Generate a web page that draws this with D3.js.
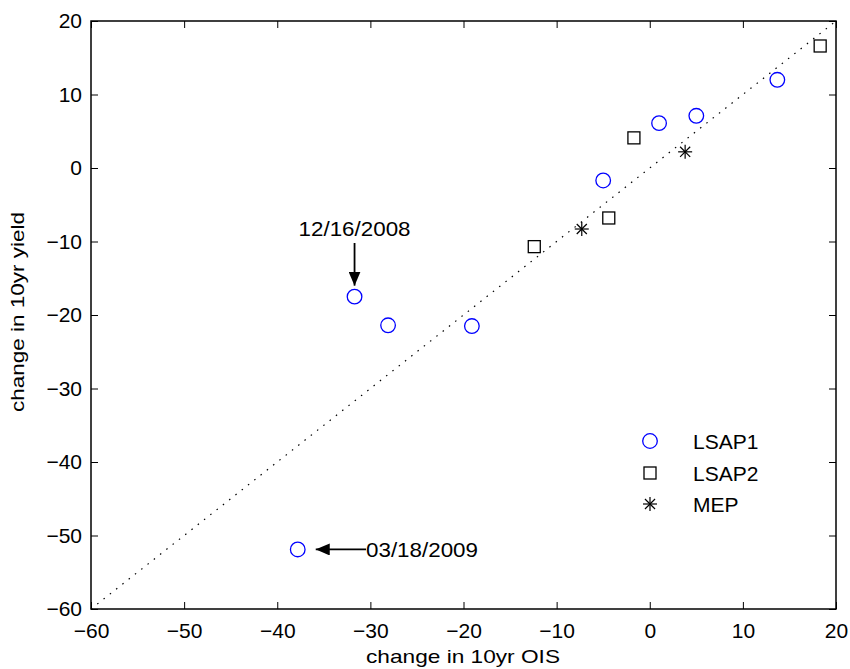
<!DOCTYPE html>
<html><head><meta charset="utf-8">
<script src="https://cdn.jsdelivr.net/npm/d3@7"></script>
<style>body{margin:0;background:#fff}svg{display:block;font-family:"Liberation Sans",Arial,sans-serif}</style>
</head><body><svg id="c" width="850" height="669"></svg>
<script>
const lsap1X = [-31.7, -28.1, -19.1, -5.0, 1.0, 5.0, 13.7, -37.8];
const lsap1Y = [-17.5, -21.4, -21.5, -1.7, 6.1, 7.1, 12.0, -51.9];
const lsap2X = [18.3, -1.7, -4.4, -12.4];
const lsap2Y = [16.6, 4.1, -6.8, -10.7];
const mepX = [-7.3, 3.8];
const mepY = [-8.3, 2.2];
const xTicks = [-60, -50, -40, -30, -20, -10, 0, 10, 20];
const yTicks = [-60, -50, -40, -30, -20, -10, 0, 10, 20];
const seriesNames = ["LSAP1", "LSAP2", "MEP"];

const svg = d3.select("#c");
const L = 91, R = 836, T = 21, B = 609;
const x = d3.scaleLinear().domain([-60, 20]).range([L, R]);
const y = d3.scaleLinear().domain([-60, 20]).range([B, T]);
const FF = "Liberation Sans, Arial, sans-serif";

// diagonal dotted line
svg.append("line").attr("x1", x(-60)).attr("y1", y(-60)).attr("x2", x(20)).attr("y2", y(20))
  .attr("stroke", "#000").attr("stroke-width", 1.2).attr("stroke-dasharray", "1.5,6.5");

// axes
const tickLen = 7;
const fmt = d => d < 0 ? "\u2212" + Math.abs(d) : String(d);
svg.append("g").attr("transform", `translate(0,${B})`)
  .call(d3.axisBottom(x).tickValues(xTicks).tickSizeInner(-tickLen).tickSizeOuter(0).tickPadding(14).tickFormat(fmt))
  .call(g => g.select(".domain").remove())
  .call(g => g.selectAll("text").attr("font-size", 21).attr("fill", "#000").attr("font-family", FF));
svg.append("g").attr("transform", `translate(0,${T})`)
  .call(d3.axisTop(x).tickValues(xTicks).tickSizeInner(-tickLen).tickSizeOuter(0).tickFormat(""))
  .call(g => g.select(".domain").remove());
svg.append("g").attr("transform", `translate(${L},0)`)
  .call(d3.axisLeft(y).tickValues(yTicks).tickSizeInner(-tickLen).tickSizeOuter(0).tickPadding(9).tickFormat(fmt))
  .call(g => g.select(".domain").remove())
  .call(g => g.selectAll("text").attr("font-size", 21).attr("fill", "#000").attr("font-family", FF));
svg.append("g").attr("transform", `translate(${R},0)`)
  .call(d3.axisRight(y).tickValues(yTicks).tickSizeInner(-tickLen).tickSizeOuter(0).tickFormat(""))
  .call(g => g.select(".domain").remove());
svg.selectAll(".tick line").attr("stroke", "#000").attr("stroke-width", 1);
svg.append("rect").attr("x", L).attr("y", T).attr("width", R - L).attr("height", B - T)
  .attr("fill", "none").attr("stroke", "#000").attr("stroke-width", 1.5);

// markers
const l1 = lsap1X.map((v, i) => [v, lsap1Y[i]]);
const l2 = lsap2X.map((v, i) => [v, lsap2Y[i]]);
const me = mepX.map((v, i) => [v, mepY[i]]);
svg.append("g").selectAll("circle").data(l1).join("circle")
  .attr("cx", d => x(d[0])).attr("cy", d => y(d[1])).attr("r", 7.3)
  .attr("fill", "none").attr("stroke", "#0000ff").attr("stroke-width", 1.3);
svg.append("g").selectAll("rect").data(l2).join("rect")
  .attr("x", d => x(d[0]) - 6).attr("y", d => y(d[1]) - 6).attr("width", 12).attr("height", 12)
  .attr("fill", "none").attr("stroke", "#000").attr("stroke-width", 1.3);
function star(g, cx, cy, r) {
  const p = [[0, -r, 0, r], [-r, 0, r, 0], [-r*0.72, -r*0.72, r*0.72, r*0.72], [-r*0.72, r*0.72, r*0.72, -r*0.72]];
  p.forEach(s => g.append("line").attr("x1", cx + s[0]).attr("y1", cy + s[1]).attr("x2", cx + s[2]).attr("y2", cy + s[3])
    .attr("stroke", "#000").attr("stroke-width", 1.2));
}
const sg = svg.append("g");
me.forEach(d => star(sg, x(d[0]), y(d[1]), 7));

// annotations
const defs = svg.append("defs");
defs.append("marker").attr("id", "ah").attr("viewBox", "0 0 14 12").attr("refX", 14).attr("refY", 6)
  .attr("markerWidth", 14).attr("markerHeight", 12).attr("markerUnits", "userSpaceOnUse").attr("orient", "auto")
  .append("path").attr("d", "M0,0 L14,6 L0,12 Z").attr("fill", "#000");
const a1 = l1[0];
svg.append("text").attr("x", x(a1[0])).attr("y", 236).attr("text-anchor", "middle")
  .attr("font-size", 21).attr("textLength", 112).attr("lengthAdjust", "spacingAndGlyphs").text("12/16/2008");
svg.append("line").attr("x1", x(a1[0])).attr("y1", 243).attr("x2", x(a1[0])).attr("y2", y(a1[1]) - 11)
  .attr("stroke", "#000").attr("stroke-width", 1.8).attr("marker-end", "url(#ah)");
const a2 = l1[7];
svg.append("text").attr("x", 366).attr("y", 557).attr("font-size", 21)
  .attr("textLength", 112).attr("lengthAdjust", "spacingAndGlyphs").text("03/18/2009");
svg.append("line").attr("x1", 366).attr("y1", y(a2[1])).attr("x2", x(a2[0]) + 18).attr("y2", y(a2[1]))
  .attr("stroke", "#000").attr("stroke-width", 1.8).attr("marker-end", "url(#ah)");

// legend
const lg = svg.append("g");
const lx = 650, ly = [441, 473, 504];
lg.append("circle").attr("cx", lx).attr("cy", ly[0]).attr("r", 7.3).attr("fill", "none").attr("stroke", "#0000ff").attr("stroke-width", 1.3);
lg.append("rect").attr("x", lx - 6).attr("y", ly[1] - 6).attr("width", 12).attr("height", 12).attr("fill", "none").attr("stroke", "#000").attr("stroke-width", 1.3);
star(lg, lx, ly[2], 7);
seriesNames.forEach((n, i) => lg.append("text").attr("x", 693).attr("y", ly[i] + 8).attr("font-size", 21).text(n));

// axis labels
svg.append("text").attr("x", 463).attr("y", 663).attr("text-anchor", "middle").attr("font-size", 19)
  .attr("textLength", 194).attr("lengthAdjust", "spacingAndGlyphs").text("change in 10yr OIS");
svg.append("text").attr("transform", `translate(24,312) rotate(-90)`).attr("text-anchor", "middle").attr("font-size", 18)
  .attr("textLength", 200).attr("lengthAdjust", "spacingAndGlyphs").text("change in 10yr yield");
</script></body></html>
